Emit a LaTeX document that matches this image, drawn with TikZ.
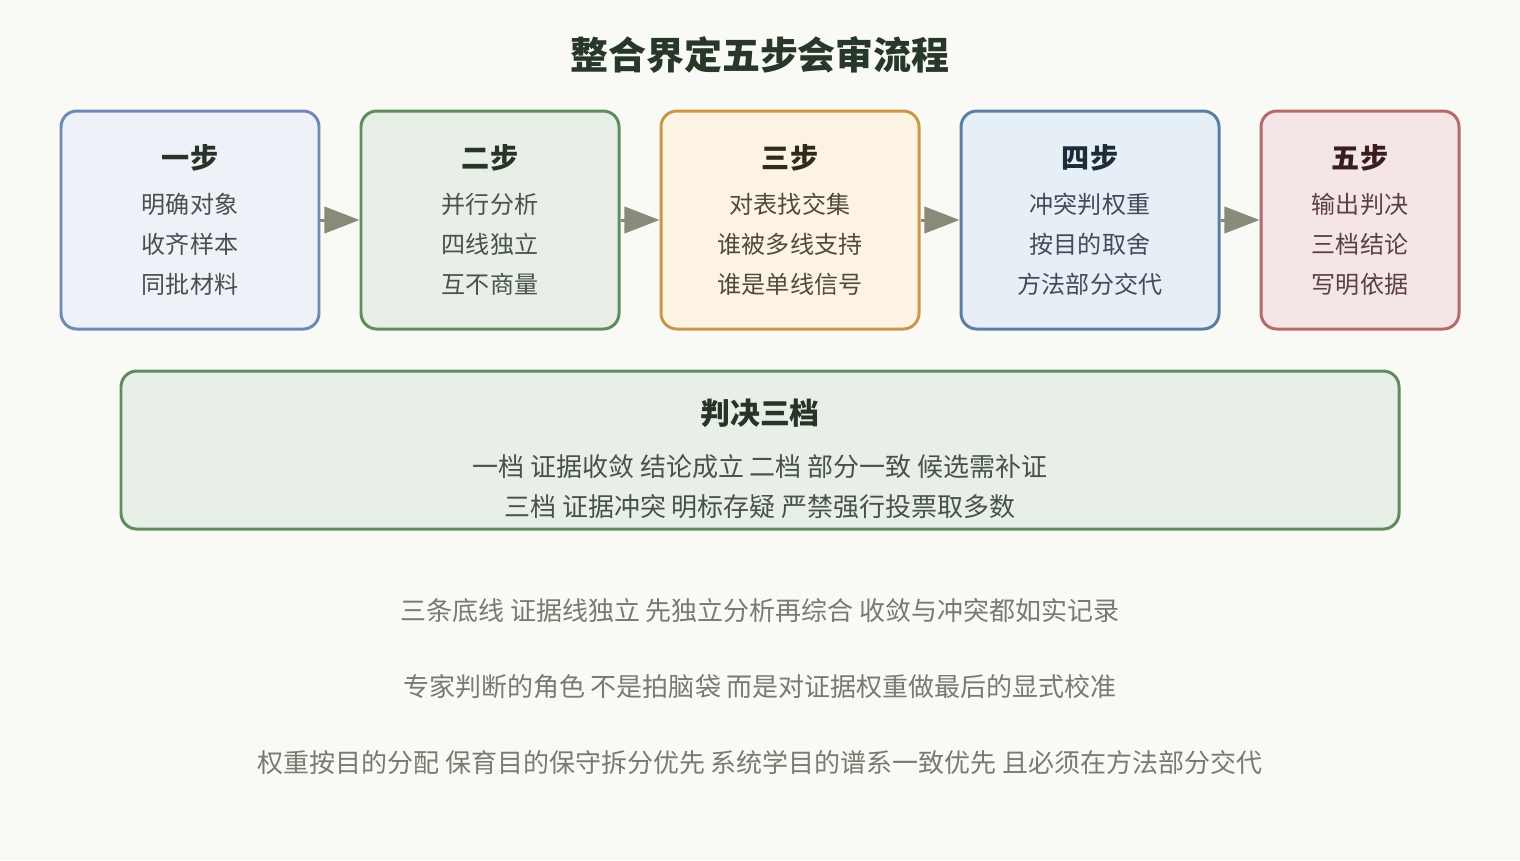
\documentclass[tikz,border=0pt]{standalone}
\usepackage{fontspec}
\setmainfont{Noto Sans CJK SC}
\usetikzlibrary{arrows.meta, positioning, calc}
\definecolor{paper}{RGB}{249,249,245}
\definecolor{inkTitle}{RGB}{40,56,40}
\definecolor{inkNote}{RGB}{122,122,112}
\definecolor{arrowGray}{RGB}{138,138,122}
\definecolor{lineA}{RGB}{110,138,178}\definecolor{fillA}{RGB}{238,241,247}
\definecolor{headA}{RGB}{40,52,40}\definecolor{bodyA}{RGB}{72,80,76}
\definecolor{lineB}{RGB}{94,140,94}\definecolor{fillB}{RGB}{232,239,230}
\definecolor{headB}{RGB}{40,52,40}\definecolor{bodyB}{RGB}{72,82,72}
\definecolor{lineC}{RGB}{201,151,74}\definecolor{fillC}{RGB}{253,243,227}
\definecolor{headC}{RGB}{46,42,30}\definecolor{bodyC}{RGB}{80,74,62}
\definecolor{lineD}{RGB}{91,127,160}\definecolor{fillD}{RGB}{230,238,246}
\definecolor{headD}{RGB}{30,44,58}\definecolor{bodyD}{RGB}{66,76,88}
\definecolor{lineE}{RGB}{181,107,107}\definecolor{fillE}{RGB}{244,230,230}
\definecolor{headE}{RGB}{58,30,30}\definecolor{bodyE}{RGB}{92,64,64}

\begin{document}
\begin{tikzpicture}[x=0.02cm, y=-0.02cm,
    stepbox/.style={draw, line width=1.7pt, rounded corners=9pt, minimum height=218*0.02cm},
    head/.style={font=\fontsize{16}{19}\selectfont\bfseries},
    body/.style={font=\fontsize{13.7}{16}\selectfont},
    wide/.style={font=\fontsize{14.8}{18}\selectfont}]
      \fill[paper] (0,0) rectangle (1520,860);
      \node[inkTitle, font=\fontsize{21.6}{26}\selectfont\bfseries] (T) at (760,55){整合界定五步会审流程};
      \foreach \i/\x/\w/\c/\t/\a/\b/\d in {1/190/258/A/一步/明确对象/收齐样本/同批材料,
          2/490/258/B/二步/并行分析/四线独立/互不商量,
          3/790/258/C/三步/对表找交集/谁被多线支持/谁是单线信号,
          4/1090/258/D/四步/冲突判权重/按目的取舍/方法部分交代,
          5/1360/198/E/五步/输出判决/三档结论/写明依据} {
        \node[stepbox, draw=line\c, fill=fill\c, minimum width=\w*0.02cm] (S\i) at (\x,220){};
        \node[head, head\c] (H\i) at (\x,158){\t};
        \node[body, body\c] at (\x,204){\a};
        \node[body, body\c] at (\x,244){\b};
        \node[body, body\c] at (\x,284){\d};
      }
      \foreach \i [evaluate=\i as \j using {int(\i+1)}] in {1,2,3,4} {
        \draw[arrowGray, line width=1.7pt, -{Triangle[length=20pt,width=15pt]}] (S\i) -- (S\j);
      }
      \node[stepbox, draw=lineB, fill=fillB, minimum width=1278*0.02cm, minimum height=158*0.02cm] (V) at (760,450){};
      \node[headB, font=\fontsize{17}{20}\selectfont\bfseries] at (760,413){判决三档};
      \node[wide, bodyB] at (760,467){一档 证据收敛 结论成立 二档 部分一致 候选需补证};
      \node[wide, bodyB] at (760,507){三档 证据冲突 明标存疑 严禁强行投票取多数};
      \node[wide, inkNote] (N1) at (760,611){三条底线 证据线独立 先独立分析再综合 收敛与冲突都如实记录};
      \node[wide, inkNote] (N2) at (760,687){专家判断的角色 不是拍脑袋 而是对证据权重做最后的显式校准};
      \node[wide, inkNote] (N3) at (760,763){权重按目的分配 保育目的保守拆分优先 系统学目的谱系一致优先 且必须在方法部分交代};
    \end{tikzpicture}
\end{document}
